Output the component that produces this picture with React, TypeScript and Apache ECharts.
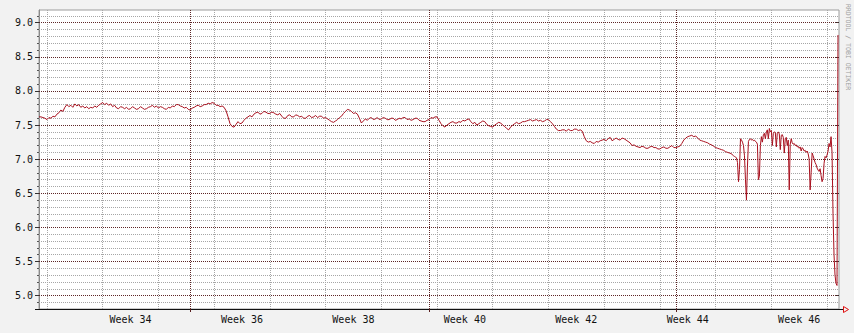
import React, { useEffect, useRef } from 'react';
import * as echarts from 'echarts';

// ---- time range ----
const START = '2017-08-13T00:00:00Z';
const END = '2017-11-21T12:00:00Z';
// part A: one value every 6 hours from START
const STEP_A_HOURS = 6;
const valuesA = [
  7.62, 7.62, 7.61, 7.60, 7.58, 7.61, 7.60, 7.63, 7.62, 7.66,
  7.68, 7.72, 7.70, 7.76, 7.80, 7.77, 7.79, 7.76, 7.81, 7.78,
  7.80, 7.76, 7.78, 7.75, 7.77, 7.74, 7.76, 7.75, 7.78, 7.76,
  7.79, 7.81, 7.83, 7.80, 7.82, 7.79, 7.81, 7.77, 7.79, 7.75,
  7.74, 7.77, 7.76, 7.74, 7.76, 7.73, 7.74, 7.77, 7.75, 7.73,
  7.74, 7.77, 7.75, 7.73, 7.74, 7.76, 7.77, 7.79, 7.76, 7.78,
  7.75, 7.77, 7.76, 7.74, 7.73, 7.76, 7.75, 7.78, 7.77, 7.80,
  7.80, 7.78, 7.77, 7.75, 7.76, 7.73, 7.72, 7.75, 7.76, 7.78,
  7.79, 7.77, 7.78, 7.80, 7.80, 7.82, 7.81, 7.83, 7.82, 7.79,
  7.79, 7.77, 7.78, 7.76, 7.71, 7.62, 7.52, 7.48, 7.47, 7.51,
  7.55, 7.52, 7.53, 7.57, 7.60, 7.62, 7.64, 7.62, 7.66, 7.68,
  7.69, 7.66, 7.67, 7.70, 7.69, 7.67, 7.67, 7.69, 7.68, 7.66,
  7.65, 7.67, 7.63, 7.60, 7.60, 7.64, 7.65, 7.62, 7.62, 7.65,
  7.64, 7.62, 7.63, 7.60, 7.60, 7.63, 7.64, 7.61, 7.62, 7.64,
  7.61, 7.63, 7.63, 7.60, 7.61, 7.59, 7.57, 7.55, 7.54, 7.56,
  7.58, 7.61, 7.63, 7.67, 7.70, 7.73, 7.72, 7.70, 7.67, 7.68,
  7.66, 7.60, 7.53, 7.56, 7.59, 7.57, 7.60, 7.61, 7.58, 7.59,
  7.61, 7.58, 7.59, 7.61, 7.60, 7.58, 7.58, 7.60, 7.60, 7.57,
  7.58, 7.60, 7.59, 7.61, 7.61, 7.58, 7.59, 7.57, 7.58, 7.60,
  7.60, 7.57, 7.56, 7.55, 7.55, 7.57, 7.58, 7.61, 7.60, 7.62,
  7.62, 7.57, 7.52, 7.49, 7.47, 7.50, 7.52, 7.54, 7.55, 7.53,
  7.53, 7.55, 7.54, 7.57, 7.56, 7.58, 7.59, 7.55, 7.52, 7.54,
  7.50, 7.52, 7.54, 7.56, 7.55, 7.51, 7.49, 7.48, 7.47, 7.50,
  7.52, 7.54, 7.53, 7.50, 7.48, 7.45, 7.43, 7.47, 7.50, 7.52,
  7.54, 7.52, 7.53, 7.55, 7.55, 7.56, 7.57, 7.58, 7.56, 7.57,
  7.58, 7.56, 7.57, 7.55, 7.56, 7.58, 7.58, 7.55, 7.52, 7.48,
  7.44, 7.42, 7.42, 7.43, 7.43, 7.41, 7.44, 7.42, 7.42, 7.44,
  7.44, 7.42, 7.43, 7.41, 7.33, 7.27, 7.25, 7.26, 7.24, 7.23,
  7.26, 7.25, 7.27, 7.28, 7.29, 7.27, 7.30, 7.32, 7.27, 7.29,
  7.31, 7.29, 7.28, 7.31, 7.30, 7.28, 7.26, 7.24, 7.20, 7.21,
  7.19, 7.18, 7.17, 7.19, 7.18, 7.16, 7.16, 7.18, 7.19, 7.17,
  7.17, 7.15, 7.15, 7.17, 7.18, 7.16, 7.16, 7.18, 7.20, 7.17,
  7.17, 7.18, 7.19, 7.23, 7.28, 7.31, 7.33, 7.34, 7.35, 7.33,
  7.34, 7.31, 7.28, 7.27, 7.26, 7.25, 7.24, 7.22, 7.21, 7.19,
  7.17, 7.16, 7.15, 7.14, 7.13, 7.11, 7.10, 7.09,
];
// part B: one value every 3 hours from START_B
const START_B = '2017-11-08T00:00:00Z';
const STEP_B_HOURS = 3;
const valuesB = [
  7.08, 7.06, 7.05, 7.04, 7.03, 7.02, 6.95, 6.67, 6.85, 7.30,
  7.28, 7.25, 7.20, 7.05, 6.70, 6.40, 6.90, 7.26, 7.29, 7.30,
  7.28, 7.29, 7.27, 7.28, 7.26, 7.25, 7.22, 6.70, 6.75, 7.20,
  7.33, 7.25, 7.36, 7.38, 7.30, 7.40, 7.43, 7.30, 7.45, 7.40,
  7.42, 7.20, 7.38, 7.40, 7.39, 7.18, 7.38, 7.40, 7.37, 7.14,
  7.35, 7.36, 7.32, 7.09, 7.30, 7.32, 7.20, 7.28, 6.55, 7.22,
  7.30, 7.24, 7.22, 7.23, 7.20, 7.21, 7.18, 7.19, 7.16, 7.18,
  7.12, 7.17, 7.15, 7.12, 7.13, 7.10, 7.12, 7.08, 7.00, 6.55,
  6.80, 7.09, 7.05, 7.00, 6.95, 6.92, 6.87, 6.84, 6.82, 6.86,
  6.76, 6.67, 6.72, 6.94, 7.04, 7.02, 7.06, 7.12, 7.23, 7.18,
  7.33, 7.10, 6.20, 5.60, 5.30, 5.18, 5.15, 8.82,
];

// ---- grid / tick definitions ----
const weekLines = [
  '2017-08-14', '2017-08-21', '2017-08-28', '2017-09-04', '2017-09-11',
  '2017-09-18', '2017-09-25', '2017-10-02', '2017-10-09', '2017-10-16',
  '2017-10-23', '2017-10-30', '2017-11-06', '2017-11-13', '2017-11-20',
];
const monthLines = ['2017-09-01', '2017-10-01', '2017-11-01'];
const weekLabelDates = [
  '2017-08-24T12:00:00Z', '2017-09-07T12:00:00Z', '2017-09-21T12:00:00Z',
  '2017-10-05T12:00:00Z', '2017-10-19T12:00:00Z', '2017-11-02T12:00:00Z',
  '2017-11-16T12:00:00Z',
];
const weekLabels = ['Week 34', 'Week 36', 'Week 38', 'Week 40', 'Week 42', 'Week 44', 'Week 46'];
const yMajor = [5.0, 5.5, 6.0, 6.5, 7.0, 7.5, 8.0, 8.5, 9.0];
const yMinor = [
  4.9, 5.1, 5.2, 5.3, 5.4, 5.6, 5.7, 5.8, 5.9, 6.1, 6.2, 6.3, 6.4, 6.6, 6.7, 6.8, 6.9,
  7.1, 7.2, 7.3, 7.4, 7.6, 7.7, 7.8, 7.9, 8.1, 8.2, 8.3, 8.4, 8.6, 8.7, 8.8, 8.9, 9.1,
];
const Y_MIN = 4.805;
const Y_MAX = 9.186;
const watermark = 'RRDTOOL / TOBI OETIKER';

const HOUR = 3600000;
const ts = (s: string) => Date.parse(s.length === 10 ? s + 'T00:00:00Z' : s);

export default function App() {
  const ref = useRef<HTMLDivElement>(null);
  useEffect(() => {
    if (!ref.current) return;
    const chart = echarts.init(ref.current, null, { renderer: 'svg' });
    const t0 = ts(START);
    const tB = ts(START_B);
    const data: [number, number][] = [];
    valuesA.forEach((v, i) => data.push([t0 + i * STEP_A_HOURS * HOUR, v]));
    valuesB.forEach((v, j) => data.push([tB + j * STEP_B_HOURS * HOUR, v]));

    const minorStyle = { color: '#a6a6a6', type: [1, 1] as any, width: 1 };
    const majorStyle = { color: '#5e2626', type: [1, 1] as any, width: 1 };
    const mono = 'DejaVu Sans Mono';
    const labelTs = weekLabelDates.map(ts);

    chart.setOption({
      animation: false,
      backgroundColor: '#f2f2f2',
      grid: {
        left: 39, top: 10, right: 15, bottom: 24,
        show: true, backgroundColor: '#ffffff', borderColor: '#9c9c9c', borderWidth: 1,
      },
      xAxis: {
        type: 'value',
        min: ts(START),
        max: ts(END),
        axisLine: { show: true, lineStyle: { color: '#111', width: 1 } },
        axisTick: {
          show: true, customValues: monthLines.map(ts), length: 3,
          lineStyle: { color: '#5a2020' },
        },
        axisLabel: {
          customValues: labelTs,
          formatter: (v: number) => {
            const k = labelTs.findIndex((t) => Math.abs(t - v) < 1000);
            return k >= 0 ? weekLabels[k] : '';
          },
          fontFamily: mono, fontSize: 10, color: '#111', margin: 5,
        },
        splitLine: { show: false },
      },
      yAxis: [
        {
          type: 'value', min: Y_MIN, max: Y_MAX,
          axisLine: { show: true, lineStyle: { color: '#8a8a8a' } },
          axisTick: { show: true, customValues: yMajor, length: 4, lineStyle: { color: '#333' } },
          axisLabel: {
            customValues: yMajor,
            formatter: (v: number) => v.toFixed(1),
            fontFamily: mono, fontSize: 10, color: '#111', margin: 6,
          },
          splitLine: { show: false },
        },
        {
          type: 'value', min: Y_MIN, max: Y_MAX, position: 'left',
          axisLine: { show: false },
          axisTick: { show: true, customValues: yMinor, length: 2, lineStyle: { color: '#555' } },
          axisLabel: { show: false },
          splitLine: { show: false },
        },
        {
          type: 'value', min: Y_MIN, max: Y_MAX, position: 'right',
          axisLine: { show: false },
          axisTick: { show: true, inside: true, customValues: yMajor, length: 3, lineStyle: { color: '#333' } },
          axisLabel: { show: false },
          splitLine: { show: false },
        },
      ],
      series: [
        {
          type: 'line',
          data: [],
          z: 1,
          silent: true,
          markLine: {
            silent: true,
            symbol: ['none', 'none'],
            label: { show: false },
            emphasis: { disabled: true },
            animation: false,
            data: [
              ...weekLines.map((d) => ({ xAxis: ts(d), lineStyle: minorStyle })),
              ...yMinor.map((v) => ({ yAxis: v, lineStyle: minorStyle })),
              ...yMajor.map((v) => ({ yAxis: v, lineStyle: majorStyle })),
              ...monthLines.map((d) => ({ xAxis: ts(d), lineStyle: majorStyle })),
            ],
          },
        },
        {
          type: 'line',
          data,
          z: 5,
          silent: true,
          symbol: 'none',
          showSymbol: false,
          lineStyle: { color: '#a8101e', width: 1 },
        },
      ],
      graphic: [
        { type: 'line', shape: { x1: 35, y1: 309.5, x2: 39, y2: 309.5 }, style: { stroke: '#111', lineWidth: 1 } },
        { type: 'line', shape: { x1: 839, y1: 309.5, x2: 844, y2: 309.5 }, style: { stroke: '#111', lineWidth: 1 } },
        {
          type: 'polygon',
          shape: { points: [[843.5, 306.5], [848.5, 309.5], [843.5, 312.5]] },
          style: { fill: 'none', stroke: '#e01010', lineWidth: 1 },
        },
        {
          type: 'text',
          x: 848,
          y: 47,
          rotation: -Math.PI / 2,
          style: {
            text: watermark,
            fill: '#a0a0a0',
            font: '6.5px "DejaVu Sans Mono"',
            align: 'center',
            verticalAlign: 'middle',
            textAlign: 'center',
            textVerticalAlign: 'middle',
          } as any,
        },
      ],
    });
    return () => chart.dispose();
  }, []);
  return (
    <div
      ref={ref}
      style={{ position: 'absolute', left: 0, top: 0, width: 854, height: 333 }}
    />
  );
}
